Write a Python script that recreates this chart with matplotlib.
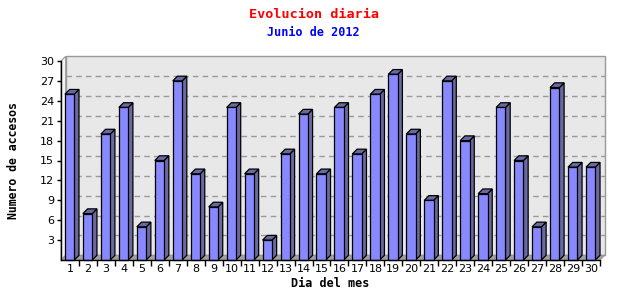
import matplotlib
matplotlib.use("Agg")
from matplotlib import pyplot as plt
from matplotlib.patches import Polygon, Rectangle

# accesos por dia - junio 2012
dias = list(range(1, 31))
accesos = [25, 7, 19, 23, 5, 15, 27, 13, 8, 23,
           13, 3, 16, 22, 13, 23, 16, 25, 28, 19,
           9, 27, 18, 10, 23, 15, 5, 26, 14, 14]
yticks = list(range(3, 31, 3))

titulo = 'Evolucion diaria'
subtitulo = 'Junio de 2012'
xlab = 'Dia del mes'
ylab = 'Numero de accesos'

# colores
c_frente = '#8888ff'
c_lado = '#6a6aa2'
c_pared = '#e8e8e8'
c_suelo = '#a0a0a0'
c_grid = '#999999'

fig = plt.figure(figsize=(6.4, 3.0), dpi=100)
ax = fig.add_axes([61/640, 40/300, 539/640, 199/300])
ax.set_xlim(0.5, 30.5)
ax.set_ylim(0, 30)
ax.patch.set_visible(False)

# profundidad 3d (en datos)
dx = 4.7 / (539/30)
dy = 4.7 / (199/30)

# pared del fondo
ax.add_patch(Polygon([(0.5+dx, dy), (30.5+dx, dy), (30.5+dx, 30+dy), (0.5+dx, 30+dy)],
                     closed=True, facecolor=c_pared, edgecolor=c_grid, lw=1, clip_on=False, zorder=0))
ax.add_patch(Polygon([(0.5, 0), (0.5+dx, dy), (0.5+dx, 30+dy), (0.5, 30)],
                     closed=True, facecolor='#f4f4f4', edgecolor=c_grid, lw=0.8, clip_on=False, zorder=0))
ax.add_patch(Polygon([(0.5, 0), (30.5, 0), (30.5+dx, dy), (0.5+dx, dy)],
                     closed=True, facecolor=c_suelo, edgecolor=c_grid, lw=0.8, clip_on=False, zorder=0.5))
for v in yticks[:-1]:
    ax.plot([0.5+dx, 30.5+dx], [v+dy, v+dy], color=c_grid, lw=1, ls=(0, (4, 3)),
            clip_on=False, zorder=0.6)

# barras 3d
w = 0.52
for d, v in zip(dias, accesos):
    x0 = d - 0.28
    x1 = x0 + w
    ax.add_patch(Polygon([(x1, 0), (x1+dx, dy), (x1+dx, v+dy), (x1, v)], closed=True,
                         facecolor=c_lado, edgecolor='black', lw=0.9, clip_on=False, zorder=2))
    ax.add_patch(Polygon([(x0, v), (x0+dx, v+dy), (x1+dx, v+dy), (x1, v)], closed=True,
                         facecolor=c_lado, edgecolor='black', lw=0.9, clip_on=False, zorder=2))
    ax.add_patch(Rectangle((x0, 0), w, v, facecolor=c_frente, edgecolor='black',
                           lw=0.9, clip_on=False, zorder=3))

for s in ['top', 'right']:
    ax.spines[s].set_visible(False)
for s in ['left', 'bottom']:
    ax.spines[s].set_color('black')
    ax.spines[s].set_linewidth(1)
    ax.spines[s].set_zorder(4)

ax.set_yticks(yticks)
ax.set_yticklabels([str(t) for t in yticks], fontsize=8)
ax.tick_params(axis='y', length=3, width=1, pad=2)
ax.set_xticks(dias)
ax.set_xticklabels([str(d) for d in dias], fontsize=8)
ax.tick_params(axis='x', which='major', length=0, pad=3)
ax.set_xticks([d + 0.5 for d in dias], minor=True)
ax.tick_params(axis='x', which='minor', length=4, width=1)

ax.set_xlabel(xlab, fontsize=8.5, fontweight='bold', family='DejaVu Sans Mono', labelpad=2)
ax.set_ylabel(ylab, fontsize=8.3, fontweight='bold', family='DejaVu Sans Mono', labelpad=14)

fig.text(0.49, 1 - 14/300, titulo, color='red', fontsize=9.7, fontweight='bold',
         family='DejaVu Sans Mono', ha='center', va='center')
fig.text(0.49, 1 - 32/300, subtitulo, color='blue', fontsize=8.5, fontweight='bold',
         family='DejaVu Sans Mono', ha='center', va='center')

fig.savefig('out.png', dpi=100, facecolor='white')
